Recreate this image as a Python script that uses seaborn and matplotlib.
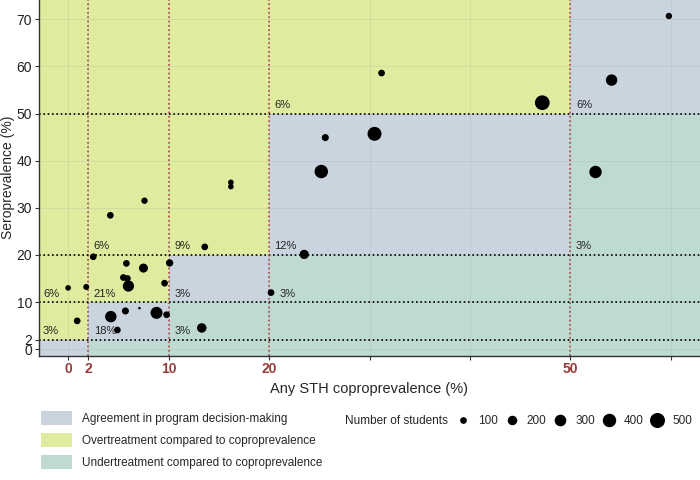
import numpy as np
import pandas as pd
import matplotlib
matplotlib.use("Agg")
import matplotlib.pyplot as plt
from matplotlib.patches import Rectangle, Patch
from matplotlib.lines import Line2D
import seaborn as sns

# Données : coproprévalence, séroprévalence, nombre d'élèves
copro = [0.0, 1.8, 0.9, 2.5, 4.2, 7.6, 5.8, 7.5, 5.5, 5.9, 6.0, 9.6, 10.1, 13.6,
         4.25, 5.7, 7.1, 8.8, 9.8, 4.9, 13.3, 16.2, 16.2, 31.2, 25.6, 30.5, 25.2,
         59.8, 54.1, 47.2, 52.5, 23.5, 20.2]
sero = [13.0, 13.2, 6.0, 19.6, 28.4, 31.5, 18.2, 17.2, 15.2, 15.0, 13.4, 14.0, 18.3, 21.7,
        6.9, 8.1, 8.7, 7.7, 7.3, 4.05, 4.5, 35.4, 34.5, 58.6, 44.9, 45.7, 37.7,
        70.7, 57.1, 52.3, 37.6, 20.1, 12.0]
students = [70, 80, 100, 100, 100, 90, 100, 180, 100, 100, 280, 100, 120, 100,
            290, 110, 15, 320, 100, 100, 200, 70, 70, 100, 110, 430, 400,
            90, 290, 480, 340, 190, 100]

# Seuils de décision du programme
seuils = [2, 10, 20, 50]
x_ticks = [0, 2, 10, 20, 30, 40, 50, 60]
x_ticklabels = ["0", "2", "10", "20", "", "", "50", ""]
y_ticks = [0, 2, 10, 20, 30, 40, 50, 60, 70]

legend_sizes = [100, 200, 300, 400, 500]
categories = ["Agreement in program decision-making",
              "Overtreatment compared to coproprevalence",
              "Undertreatment compared to coproprevalence"]
couleurs = ["#CAD4DF", "#DFEC9F", "#BFDAD0"]

df = pd.DataFrame({"copro": copro, "sero": sero, "students": students})

sns.set_style("ticks")
plt.rcParams['font.family'] = ['Liberation Sans', 'DejaVu Sans']

fig = plt.figure(figsize=(7, 4.8), dpi=100)
ax = fig.add_axes([39 / 700, 1 - 355.5 / 480, 1 - 39 / 700, 355.5 / 480])

xmin, xmax = -2.9, 62.9
ymin, ymax = -1.35, 74.1
bx = [xmin] + seuils + [xmax]
by = [ymin] + seuils + [ymax]

# Fond : accord / sur-traitement / sous-traitement
for i in range(5):
    for j in range(5):
        if i == j:
            c = couleurs[0]
        elif j > i:
            c = couleurs[1]
        else:
            c = couleurs[2]
        ax.add_patch(Rectangle((bx[i], by[j]), bx[i + 1] - bx[i], by[j + 1] - by[j],
                               facecolor=c, lw=0, zorder=0.2))

# Pourcentage d'écoles dans chaque case
n_tot = len(df)
ix = np.digitize(df["copro"], seuils)
iy = np.digitize(df["sero"], seuils)
for i in range(5):
    for j in range(5):
        n = np.sum((ix == i) & (iy == j))
        if n == 0:
            continue
        pct = int(round(100 * n / n_tot))
        tx = (bx[i] + 0.55) if i > 0 else -2.5
        if i == 3 and j == 2:
            tx = bx[i] + 1.0  # décalé à côté du point
        ax.text(tx, by[j] + 1.8, f"{pct}%", fontsize=8, color="#222222",
                ha="left", va="center", zorder=2)

for s in seuils:
    ax.axhline(s, color="black", ls=(0, (1, 1.6)), lw=1.2, zorder=1)
    ax.axvline(s, color="#A8474A", ls=(0, (1, 1.6)), lw=1.2, zorder=1)

sns.scatterplot(data=df, x="copro", y="sero", size="students", sizes=(0, 117),
                size_norm=(0, 500), color="black", linewidth=0, legend=False,
                ax=ax, zorder=3)

ax.set_xlim(xmin, xmax)
ax.set_ylim(ymin, ymax)
ax.set_xticks(x_ticks)
ax.set_xticklabels(x_ticklabels, fontsize=10, fontweight="bold", color="#9A3B3B")
ax.set_yticks(y_ticks)
ax.set_yticklabels([str(v) for v in y_ticks], fontsize=10, color="#222222")
ax.tick_params(length=3, width=0.8, color="#333333", pad=2)
ax.grid(True, color="#8a96a0", alpha=0.2, lw=0.6)
ax.set_axisbelow(True)
sns.despine(ax=ax)
for sp in ["left", "bottom"]:
    ax.spines[sp].set_color("#333333")
    ax.spines[sp].set_linewidth(1.0)

ax.set_xlabel("Any STH coproprevalence (%)", fontsize=10.5, labelpad=4)
ax.set_ylabel("Seroprevalence (%)", fontsize=10, labelpad=1)

# Légende des zones
patchs = [Patch(facecolor=c, edgecolor="none", label=l) for c, l in zip(couleurs, categories)]
fig.legend(handles=patchs, loc="upper left", bbox_to_anchor=(41 / 700, 1 - 411 / 480),
           frameon=False, fontsize=8.5, handlelength=2.62, handleheight=1.44,
           labelspacing=0.68, handletextpad=0.85, borderpad=0, borderaxespad=0)

# Légende des tailles
poignees = [Line2D([], [], ls="none", marker="o", color="black", markeredgewidth=0,
                   markersize=np.sqrt(117 * v / 500), label=str(v)) for v in legend_sizes]
fig.legend(handles=poignees, loc="center left", bbox_to_anchor=(454.7 / 700, 1 - 420.7 / 480),
           ncol=5, frameon=False, fontsize=8.5, handlelength=1.41, handletextpad=0.56,
           columnspacing=0.47, borderpad=0, borderaxespad=0)
fig.text(448 / 700, 1 - 420.7 / 480, "Number of students", fontsize=8.5,
         ha="right", va="center")

fig.savefig("out.png", dpi=100)
